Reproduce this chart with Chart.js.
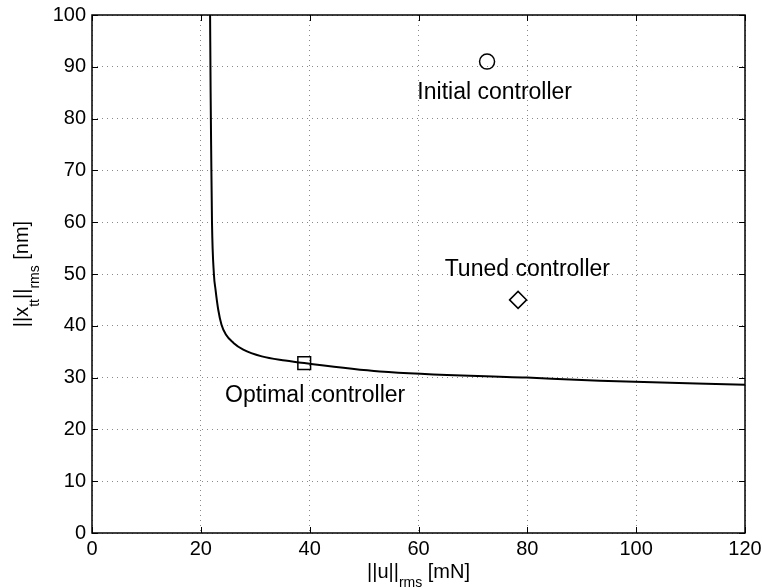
<!DOCTYPE html>
<html>
<head>
<meta charset="utf-8">
<script src="https://cdn.jsdelivr.net/npm/chart.js@4.4.1/dist/chart.umd.min.js"></script>
<style>
  html, body { margin: 0; padding: 0; background: #fff; }
  #grafico { display: block; }
</style>
</head>
<body>
<canvas id="grafico" width="763" height="588"></canvas>
<script>
// curva de compromiso
const curvaU = [21.7, 21.8, 21.9, 22.05, 22.4, 22.7, 23.2, 23.8, 24.6, 26.0, 27.8, 31.2, 35.5, 39.0, 52.9, 79.9, 93.3, 120];
const curvaX = [100, 85, 74, 60, 50, 47.0, 43.1, 40.2, 38.3, 36.7, 35.4, 34.1, 33.3, 32.8, 31.2, 30.0, 29.4, 28.6];

// controladores
const inicialU = [72.6], inicialX = [91.0];
const optimoU = [39.0], optimoX = [32.8];
const ajustadoU = [78.3], ajustadoX = [45.0];

// textos de anotacion
const notaTexto = ['Initial controller', 'Tuned controller', 'Optimal controller'];
const notaU = [74.0, 80.0, 41.0];
const notaX = [85.0, 50.8, 26.5];

const FUENTE = '"Liberation Sans", Arial, Helvetica, sans-serif';

const zip = (a, b) => a.map((v, i) => ({ x: v, y: b[i] }));

// texto con subindices: partes = [[texto, esSub], ...]
function textoRico(ctx, partes, cx, cy, bajada) {
    const anchos = partes.map(([t, sub]) => {
        ctx.font = (sub ? '14px ' : '20px ') + FUENTE;
        return ctx.measureText(t).width;
    });
    let x = cx - anchos.reduce((a, b) => a + b, 0) / 2;
    partes.forEach(([t, sub], i) => {
        ctx.font = (sub ? '14px ' : '20px ') + FUENTE;
        ctx.fillText(t, x, cy + (sub ? bajada : 0));
        x += anchos[i];
    });
}

const marcoMatlab = {
    id: 'marcoMatlab',
    afterDraw(chart) {
        const { ctx, chartArea: a, scales } = chart;
        ctx.save();
        ctx.strokeStyle = '#000';
        ctx.lineWidth = 1;
        // marcas hacia dentro
        const L = 6;
        ctx.beginPath();
        scales.x.ticks.forEach(t => {
            const px = Math.round(scales.x.getPixelForValue(t.value)) + 0.5;
            ctx.moveTo(px, a.bottom); ctx.lineTo(px, a.bottom - L);
            ctx.moveTo(px, a.top); ctx.lineTo(px, a.top + L);
        });
        scales.y.ticks.forEach(t => {
            const py = Math.round(scales.y.getPixelForValue(t.value)) + 0.5;
            ctx.moveTo(a.left, py); ctx.lineTo(a.left + L, py);
            ctx.moveTo(a.right, py); ctx.lineTo(a.right - L, py);
        });
        ctx.stroke();
        ctx.lineWidth = 1.5;
        ctx.strokeRect(a.left, a.top, a.right - a.left, a.bottom - a.top);

        // anotaciones
        ctx.fillStyle = '#000';
        ctx.font = '23px ' + FUENTE;
        ctx.textAlign = 'center';
        ctx.textBaseline = 'middle';
        notaTexto.forEach((t, i) => {
            ctx.fillText(t, scales.x.getPixelForValue(notaU[i]), scales.y.getPixelForValue(notaX[i]));
        });

        // titulos de ejes
        ctx.textAlign = 'left';
        ctx.textBaseline = 'alphabetic';
        textoRico(ctx, [['||u||', false], ['rms', true], [' [mN]', false]],
            (a.left + a.right) / 2, 578, 9);
        ctx.save();
        ctx.translate(28, (a.top + a.bottom) / 2);
        ctx.rotate(-Math.PI / 2);
        textoRico(ctx, [['||x', false], ['tt', true], ['||', false], ['rms', true], [' [nm]', false]], 0, 0, 11);
        ctx.restore();
        ctx.restore();
    }
};

const ctx = document.getElementById('grafico').getContext('2d');
const grafico = new Chart(ctx, {
    type: 'line',
    data: {
        datasets: [
            {
                data: zip(curvaU, curvaX),
                borderColor: '#000',
                borderWidth: 2,
                pointRadius: 0,
                cubicInterpolationMode: 'monotone',
                fill: false
            },
            {
                data: zip(inicialU, inicialX),
                showLine: false,
                pointStyle: 'circle',
                pointRadius: 7.5,
                pointBorderWidth: 1.5,
                pointBorderColor: '#000',
                pointBackgroundColor: 'rgba(0,0,0,0)'
            },
            {
                data: zip(optimoU, optimoX),
                showLine: false,
                pointStyle: 'rect',
                pointRadius: 9,
                pointBorderWidth: 1.5,
                pointBorderColor: '#000',
                pointBackgroundColor: 'rgba(0,0,0,0)'
            },
            {
                data: zip(ajustadoU, ajustadoX),
                showLine: false,
                pointStyle: 'rectRot',
                pointRadius: 8.5,
                pointBorderWidth: 1.5,
                pointBorderColor: '#000',
                pointBackgroundColor: 'rgba(0,0,0,0)'
            }
        ]
    },
    options: {
        responsive: false,
        animation: false,
        layout: { padding: { left: 0, top: 15, right: 18, bottom: 0 } },
        plugins: { legend: { display: false }, tooltip: { enabled: false } },
        scales: {
            x: {
                type: 'linear',
                min: 0, max: 120,
                afterFit: s => { s.height = 55; s.paddingLeft = 0; s.paddingRight = 0; },
                ticks: { stepSize: 20, color: '#000', padding: 4, font: { family: FUENTE, size: 20 } },
                grid: { color: '#8a8a8a', lineWidth: 1, drawTicks: false },
                border: { display: false, dash: [1, 4] }
            },
            y: {
                min: 0, max: 100,
                afterFit: s => { s.width = 92; s.paddingTop = 0; s.paddingBottom = 0; },
                ticks: { stepSize: 10, color: '#000', padding: 6, font: { family: FUENTE, size: 20 } },
                grid: { color: '#8a8a8a', lineWidth: 1, drawTicks: false },
                border: { display: false, dash: [1, 4] }
            }
        }
    },
    plugins: [marcoMatlab]
});
</script>
</body>
</html>
